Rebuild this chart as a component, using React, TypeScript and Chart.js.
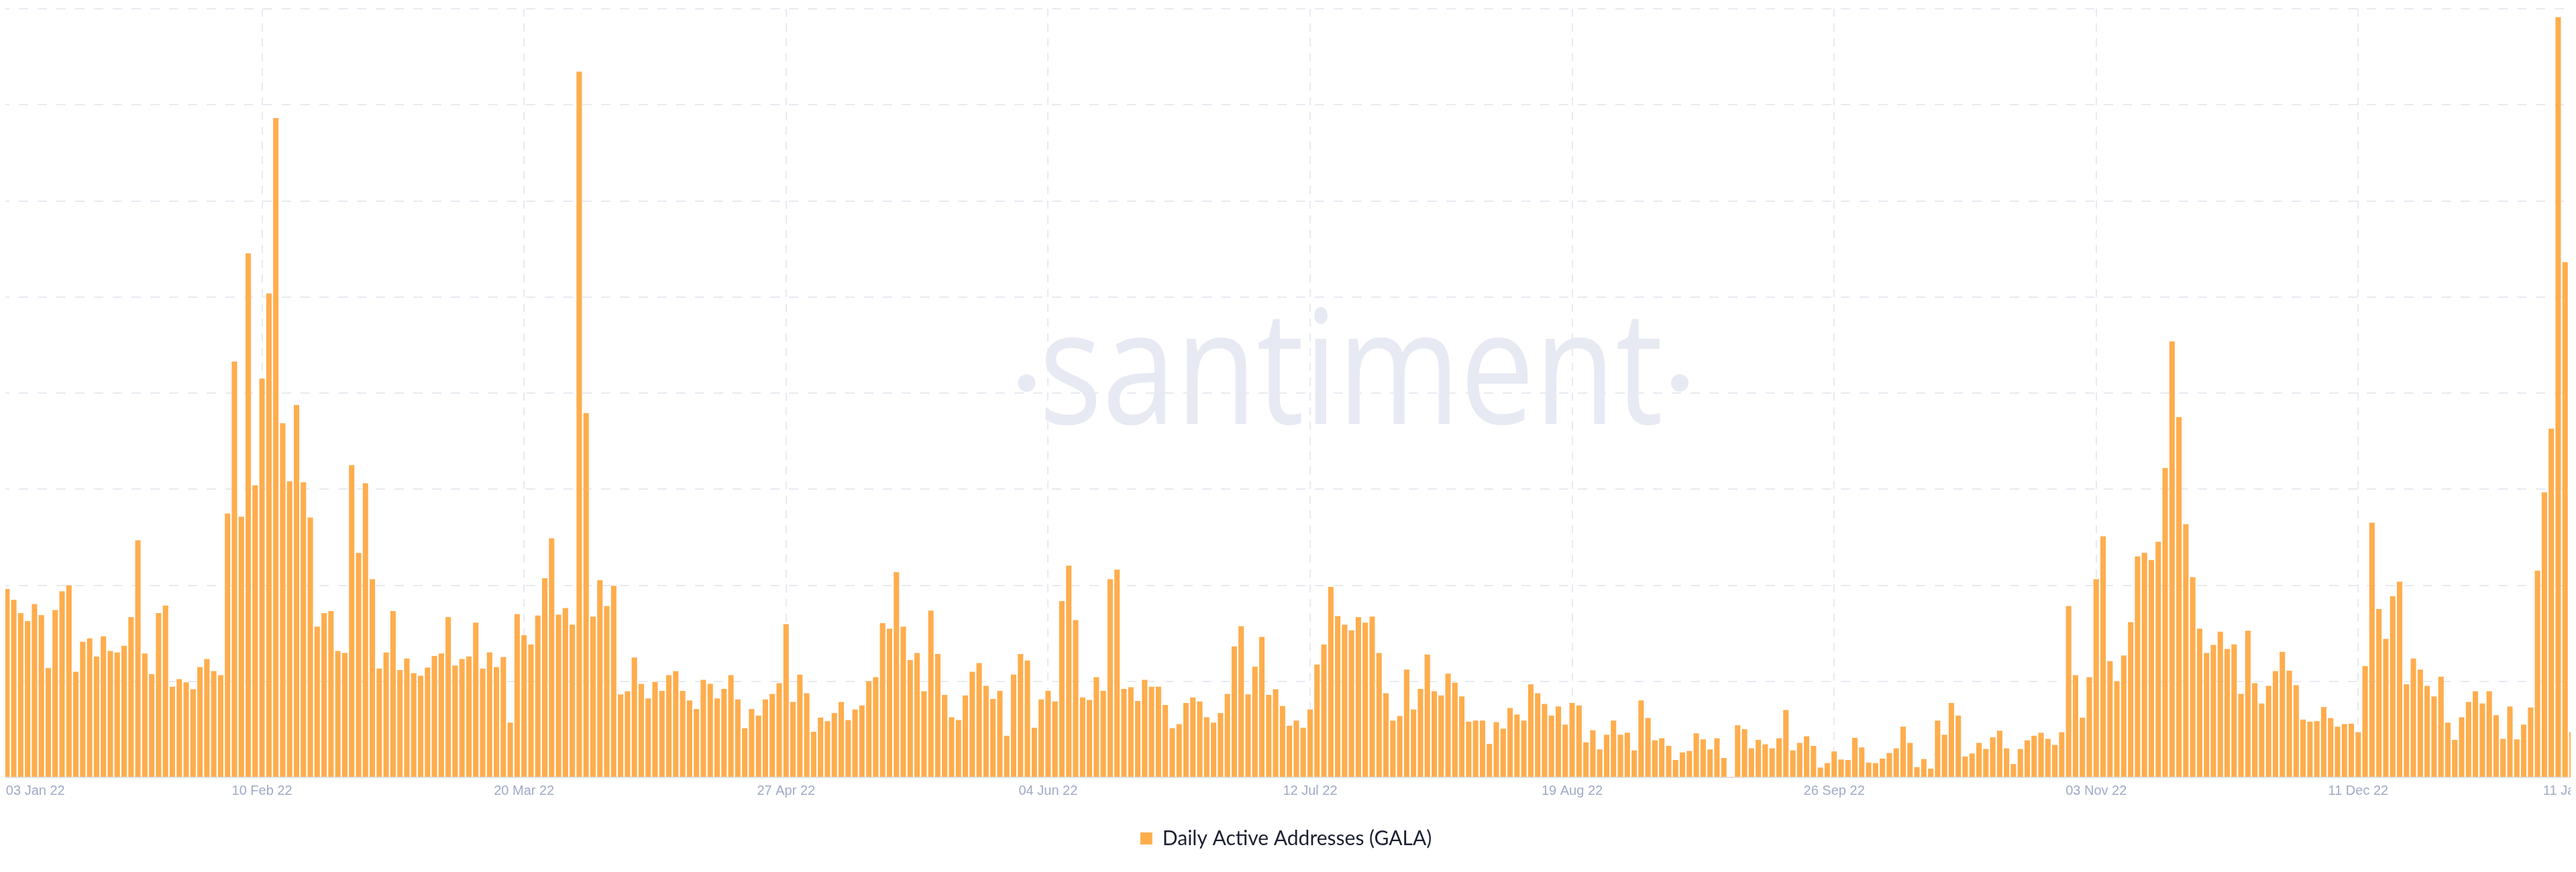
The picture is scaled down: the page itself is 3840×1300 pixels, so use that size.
import React, { useEffect, useRef } from 'react';
import { Chart, registerables } from 'chart.js';

Chart.register(...registerables);

// ---- Data: Daily Active Addresses (GALA), one value per day from 03 Jan 2022 to 11 Jan 2023 ----
const START_YEAR = 2022;
const START_MONTH = 0; // January
const START_DAY = 3;

const MONTH_NAMES = ['Jan', 'Feb', 'Mar', 'Apr', 'May', 'Jun', 'Jul', 'Aug', 'Sep', 'Oct', 'Nov', 'Dec'];

// 03 Jan 2022 – 31 Mar 2022
const dau2022Q1 = [
  2250, 1960, 1845, 1708, 1624, 1803, 1687, 1135, 1740, 1934,
  1997, 1098, 1409, 1445, 1256, 1466, 1314, 1298, 1367, 1666,
  2465, 1288, 1072, 1708, 1787, 941, 1020, 988, 915, 1146,
  1230, 1104, 1062, 2744, 4326, 2712, 5451, 3038, 4147, 5035,
  6859, 3684, 3080, 3874, 3069, 2702, 1566, 1708, 1729, 1314,
  1293, 3248, 2334, 3059, 2060, 1130, 1298, 1729, 1114, 1235,
  1083, 1056, 1141, 1261, 1288, 1666, 1162, 1230, 1256, 1608,
  1130, 1298, 1146, 1251, 568, 1698, 1477, 1382, 1682, 2071,
  2486, 1692, 1761, 1587, 7343, 3790, 1671, 2050,
];

// 01 Apr 2022 – 30 Jun 2022
const dau2022Q2 = [
  1782, 1992, 862, 894, 1246, 972, 820, 993, 899, 1062,
  1104, 899, 799, 710, 1014, 972, 820, 920, 1062, 809,
  510, 710, 641, 809, 867, 978, 1593, 783, 1067, 873,
  473, 620, 583, 668, 783, 594, 704, 746, 999, 1041,
  1603, 1545, 2134, 1566, 1219, 1293, 894, 1734, 1282, 857,
  625, 594, 851, 1098, 1188, 951, 815, 899, 431, 1067,
  1282, 1214, 515, 809, 899, 788, 1834, 2202, 1635, 830,
  804, 1041, 899, 2060, 2160, 920, 936, 794, 1014, 941,
  941, 752, 510, 552, 773, 830, 788, 625, 568, 668,
  867,
];

// 01 Jul 2022 – 30 Sep 2022
const dau2022Q3 = [
  1361, 1572, 862, 1151, 1461, 857, 915, 741, 536, 589,
  515, 704, 1172, 1382, 1981, 1677, 1587, 1529, 1666, 1608,
  1671, 1293, 873, 589, 636, 1120, 704, 920, 1277, 894,
  851, 1078, 983, 841, 578, 589, 589, 347, 573, 505,
  720, 652, 589, 967, 873, 762, 641, 736, 547, 773,
  746, 363, 489, 289, 442, 589, 442, 463, 279, 799,
  615, 384, 405, 326, 179, 258, 273, 457, 394, 289,
  405, 200, 0, 541, 499, 300, 389, 342, 300, 405,
  699, 279, 357, 426, 326, 100, 147, 268, 184, 179,
  410, 310,
];

// 01 Oct 2022 – 31 Dec 2022
const dau2022Q4 = [
  152, 147, 194, 252, 300, 526, 357, 105, 189, 89,
  589, 442, 773, 641, 216, 247, 357, 294, 415, 484,
  300, 137, 294, 384, 431, 463, 399, 336, 468, 1782,
  1062, 620, 1041, 2060, 2507, 1209, 999, 1267, 1614, 2297,
  2334, 2260, 2449, 3217, 4536, 3748, 2633, 2081, 1545, 1293,
  1377, 1514, 1335, 1382, 867, 1524, 978, 767, 951, 1104,
  1304, 1109, 957, 599, 578, 583, 731, 615, 526, 552,
  557, 468, 1156, 2649, 1750, 1440, 1882, 2034, 967, 1235,
  1120, 951, 841, 1046, 568, 389, 625, 783, 894, 767,
  894, 646,
];

// 01 Jan 2023 – 11 Jan 2023
const dau2023Jan = [399, 736, 394, 547, 725, 2150, 2964, 3627, 7910, 5361, 468];

const VALUES = [...dau2022Q1, ...dau2022Q2, ...dau2022Q3, ...dau2022Q4, ...dau2023Jan];

const pad2 = (n: number) => (n < 10 ? '0' + n : String(n));
const DATE_LABELS = VALUES.map((_, i) => {
  const d = new Date(Date.UTC(START_YEAR, START_MONTH, START_DAY + i));
  return `${pad2(d.getUTCDate())} ${MONTH_NAMES[d.getUTCMonth()]} ${String(d.getUTCFullYear()).slice(2)}`;
});

const TICK_LABELS = [
  '03 Jan 22', '10 Feb 22', '20 Mar 22', '27 Apr 22', '04 Jun 22', '12 Jul 22',
  '19 Aug 22', '26 Sep 22', '03 Nov 22', '11 Dec 22', '11 Jan 23',
];

const SERIES_LABEL = 'Daily Active Addresses (GALA)';
const WATERMARK_TEXT = 'santiment';

// ---- Styles ----
const ORANGE = '#FFAD4D';
const GRID_COLOR = '#E8EAF2';
const AXIS_COLOR = '#E1E5EE';
const TICK_COLOR = '#9FAAC6';
const LEGEND_COLOR = '#1B1F30';
const WATERMARK_COLOR = '#E7E9F3';

const CANVAS_W = 3900;
const CANVAS_H = 1300;

const watermarkPlugin = {
  id: 'santimentWatermark',
  beforeDraw(chart: any) {
    const { ctx } = chart;
    const left = 1558;
    const right = 2475;
    const baseline = 632;
    ctx.save();
    ctx.fillStyle = WATERMARK_COLOR;
    ctx.font = '400 237px "Open Sans"';
    ctx.textAlign = 'left';
    ctx.textBaseline = 'alphabetic';
    const m = ctx.measureText(WATERMARK_TEXT);
    const ink = m.actualBoundingBoxLeft + m.actualBoundingBoxRight;
    const sx = (right - left) / ink;
    ctx.translate(left, baseline);
    ctx.scale(sx, 1);
    ctx.fillText(WATERMARK_TEXT, m.actualBoundingBoxLeft, 0);
    ctx.restore();

    ctx.save();
    ctx.fillStyle = WATERMARK_COLOR;
    ctx.beginPath();
    ctx.arc(1530.5, 571, 13, 0, Math.PI * 2);
    ctx.fill();
    ctx.beginPath();
    ctx.arc(2504, 571, 13, 0, Math.PI * 2);
    ctx.fill();
    ctx.restore();
  },
};

export default function App() {
  const canvasRef = useRef<HTMLCanvasElement | null>(null);

  useEffect(() => {
    const canvas = canvasRef.current;
    if (!canvas) return;
    const lastLabel = TICK_LABELS[TICK_LABELS.length - 1];

    const chart = new Chart(canvas, {
      type: 'bar',
      data: {
        labels: DATE_LABELS,
        datasets: [
          {
            label: SERIES_LABEL,
            data: VALUES,
            backgroundColor: ORANGE,
            borderWidth: 0,
            barThickness: 7.4,
            clip: 0,
          } as any,
        ],
      },
      options: {
        responsive: false,
        animation: false,
        devicePixelRatio: 1,
        events: [],
        layout: {
          autoPadding: false,
          padding: { top: 13, right: 66, bottom: 25, left: 0 },
        },
        plugins: {
          legend: {
            position: 'bottom',
            labels: {
              boxWidth: 18,
              boxHeight: 18,
              padding: 10,
              color: LEGEND_COLOR,
              font: { family: 'Lato', size: 30 },
            },
          },
          tooltip: { enabled: false },
        },
        scales: {
          x: {
            type: 'category',
            offset: false,
            grid: {
              offset: false,
              drawTicks: false,
              lineWidth: 2,
              color: (ctx: any) =>
                ctx.tick && DATE_LABELS[ctx.tick.value] === lastLabel ? 'rgba(0,0,0,0)' : GRID_COLOR,
            },
            border: { display: true, color: AXIS_COLOR, width: 2, dash: [12, 10] },
            ticks: {
              autoSkip: false,
              maxRotation: 0,
              minRotation: 0,
              padding: 8,
              color: TICK_COLOR,
              font: { family: '"Liberation Sans", Arial, sans-serif', size: 20 },
              callback: function (this: any, value: any, index: number) {
                const lbl = this.getLabelForValue(value);
                return index === 0 ? ' '.repeat(19) + lbl : lbl;
              },
            },
            afterBuildTicks: (scale: any) => {
              scale.ticks = scale.ticks.filter((t: any) => TICK_LABELS.includes(DATE_LABELS[t.value]));
            },
            afterFit: (scale: any) => {
              scale.height = 66;
              scale.paddingLeft = 0;
              scale.paddingRight = 0;
            },
          } as any,
          y: {
            min: 0,
            max: 8000,
            ticks: { display: false, stepSize: 1000 },
            grid: { color: GRID_COLOR, lineWidth: 2, drawTicks: false },
            border: { display: false, dash: [14, 14] },
            afterFit: (scale: any) => {
              scale.width = 0;
              scale.paddingTop = 0;
              scale.paddingBottom = 0;
            },
          } as any,
        },
      },
      plugins: [watermarkPlugin],
    });

    return () => chart.destroy();
  }, []);

  return (
    <div
      style={{
        position: 'relative',
        margin: -8,
        width: 3840,
        height: CANVAS_H,
        overflow: 'hidden',
        background: '#ffffff',
      }}
    >
      <canvas
        ref={canvasRef}
        width={CANVAS_W}
        height={CANVAS_H}
        style={{ display: 'block', width: CANVAS_W, height: CANVAS_H }}
      />
    </div>
  );
}
